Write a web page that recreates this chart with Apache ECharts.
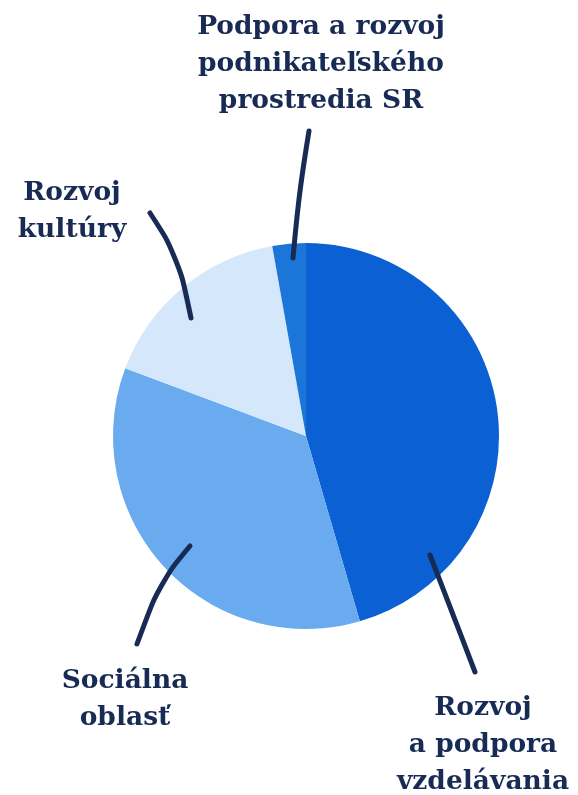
<!DOCTYPE html>
<html>
<head>
<meta charset="utf-8">
<script src="https://cdn.jsdelivr.net/npm/echarts@6/dist/echarts.min.js"></script>
<style>
  html, body { margin: 0; padding: 0; background: #fff; }
  #main { width: 578px; height: 795px; }
</style>
</head>
<body>
<div id="main"></div>
<script>
// data (clockwise from 12 o'clock)
const categories = [
  "Rozvoj\na podpora\nvzdelávania",
  "Sociálna\noblasť",
  "Rozvoj\nkultúry",
  "Podpora a rozvoj\npodnikateľského\nprostredia SR"
];
const shares = [45.5, 35.2, 16.5, 2.8];
const colors = ["#0b60d3", "#6aabef", "#d5e8fb", "#1c76d9"];

// label placement + leader line path for each slice
const labelPos = [
  { x: 483, y: 745, line: [[430, 555], [452, 612], [475, 672]] },
  { x: 125, y: 700, line: [[190, 546], [160, 582], [137, 644]] },
  { x: 72, y: 212, line: [[191, 318], [178, 256], [150, 213]] },
  { x: 321, y: 64, line: [[293, 258], [299, 192], [309, 131]] }
];

const chart = echarts.init(document.getElementById("main"));

const option = {
  animation: false,
  series: [
    {
      // the slices
      type: "pie",
      z: 1,
      center: [306, 436],
      radius: 193,
      startAngle: 90,
      clockwise: true,
      silent: true,
      data: categories.map(function (c, i) {
        return { name: c, value: shares[i], itemStyle: { color: colors[i] } };
      }),
      label: { show: false },
      labelLine: { show: false }
    },
    {
      // same pie, transparent, only to carry labels + leader lines on top
      type: "pie",
      z: 5,
      center: [306, 436],
      radius: 193,
      startAngle: 90,
      clockwise: true,
      silent: true,
      data: categories.map(function (c, i) {
        return { name: c, value: shares[i] };
      }),
      itemStyle: { color: "rgba(0,0,0,0)" },
      label: {
        show: true,
        formatter: "{b}",
        color: "#172b55",
        fontFamily: "DejaVu Serif",
        fontWeight: "bold",
        fontSize: 26.5,
        lineHeight: 37,
        align: "center",
        overflow: "none",
        width: 320
      },
      labelLine: {
        show: true,
        smooth: 0.4,
        lineStyle: { color: "#172b55", width: 5, cap: "round" }
      },
      labelLayout: function (params) {
        const p = labelPos[params.dataIndex];
        return {
          x: p.x,
          y: p.y,
          align: "center",
          verticalAlign: "middle",
          labelLinePoints: p.line
        };
      }
    }
  ]
};
chart.setOption(option);
</script>
</body>
</html>
